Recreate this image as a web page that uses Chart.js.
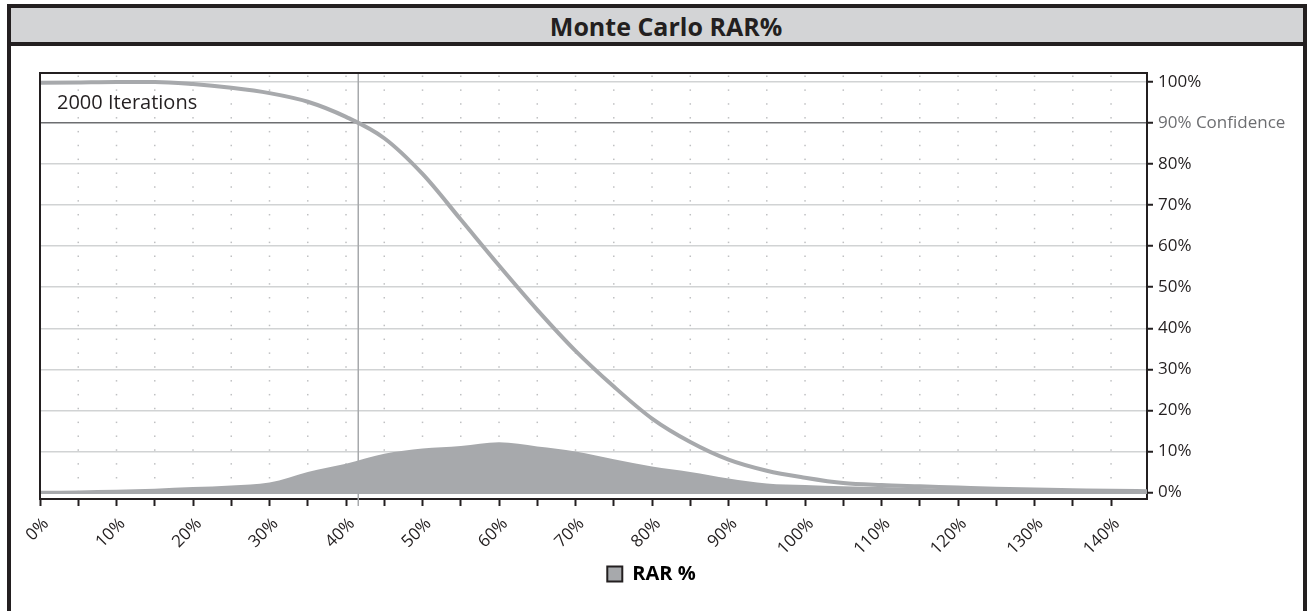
<!DOCTYPE html>
<html>
<head>
<meta charset="utf-8">
<title>Monte Carlo RAR%</title>
<script src="https://cdn.jsdelivr.net/npm/chart.js@4.4.0/dist/chart.umd.min.js"></script>
<style>
  html, body { margin: 0; padding: 0; background: #fff; overflow: hidden; }
  body { width: 1307px; height: 611px; position: relative; font-family: "Open Sans", sans-serif; }
  #frame { position: absolute; left: 7px; top: 4px; width: 1300px; height: 700px; border: 4px solid #231f20; box-sizing: border-box; }
  #titlebar { height: 34px; background: #d3d4d6; border-bottom: 4px solid #231f20; text-align: center; padding-left: 18px;
              font-weight: bold; font-size: 25px; line-height: 36px; color: #231f20; }
  #wrap { position: absolute; left: 11px; top: 46px; width: 1292px; height: 565px; }
</style>
</head>
<body>
<div id="frame"><div id="titlebar">Monte Carlo RAR%</div></div>
<div id="wrap"><canvas id="rarChart"></canvas></div>
<script>
// RAR % bins (x axis)
var rarPct = [0, 5, 10, 15, 20, 25, 30, 35, 40, 45, 50, 55, 60, 65, 70, 75, 80, 85, 90, 95, 100, 105, 110, 115, 120, 125, 130, 135, 140, 145];
// cumulative probability curve (%)
var cumulative = [99.8, 99.9, 100, 100, 99.5, 98.6, 97.3, 95.2, 91.5, 86.3, 77.6, 66.5, 55.3, 44.5, 34.5, 25.8, 18.0, 12.3, 8.0, 5.3, 3.6, 2.3, 1.8, 1.5, 1.2, 0.9, 0.7, 0.55, 0.4, 0.3];
// distribution (%)
var density = [0.4, 0.5, 0.65, 0.9, 1.3, 1.7, 2.4, 5.0, 7.0, 9.4, 10.7, 11.3, 12.2, 11.2, 10.0, 8.1, 6.3, 5.0, 3.4, 2.2, 1.8, 1.5, 1.3, 1.1, 0.9, 0.7, 0.6, 0.5, 0.4, 0.3];

var xTicks = [0, 5, 10, 15, 20, 25, 30, 35, 40, 45, 50, 55, 60, 65, 70, 75, 80, 85, 90, 95, 100, 105, 110, 115, 120, 125, 130, 135, 140];
var yTicks = [0, 10, 20, 30, 40, 50, 60, 70, 80, 90, 100];

var confidenceX = 41.6;
var confidenceY = 90;
var seriesName = 'RAR %';
var iterationsText = '2000 Iterations';

var gray = '#a7a9ac';
var ink = '#231f20';

var decor = {
    id: 'decor',
    beforeDraw: function (chart) {
        var ctx = chart.ctx, x = chart.scales.x, y = chart.scales.y;
        ctx.save();
        // dotted background grid
        ctx.fillStyle = '#bfc0c2';
        for (var vx = 5; vx < x.max; vx += 5) {
            var px = x.getPixelForValue(vx);
            for (var vy = 101.4; vy > 0; vy -= 3.373) {
                var py = y.getPixelForValue(vy);
                ctx.fillRect(px - 0.75, py - 0.75, 1.5, 1.5);
            }
        }
        ctx.restore();
    },
    beforeDatasetsDraw: function (chart) {
        var ctx = chart.ctx, a = chart.chartArea, x = chart.scales.x;
        var px = x.getPixelForValue(confidenceX);
        ctx.save();
        ctx.strokeStyle = gray;
        ctx.lineWidth = 1.5;
        ctx.beginPath();
        ctx.moveTo(px, a.top);
        ctx.lineTo(px, a.bottom + 7);
        ctx.stroke();
        ctx.restore();
    },
    afterDraw: function (chart) {
        var ctx = chart.ctx, a = chart.chartArea;
        ctx.save();
        ctx.strokeStyle = ink;
        ctx.lineWidth = 2;
        ctx.beginPath();
        ctx.moveTo(a.left, a.bottom);
        ctx.lineTo(a.left, a.top);
        ctx.lineTo(a.right, a.top);
        ctx.stroke();
        ctx.fillStyle = ink;
        ctx.font = '20px "Open Sans"';
        ctx.textBaseline = 'alphabetic';
        ctx.fillText(iterationsText, a.left + 17, a.top + 36);
        ctx.restore();
    }
};

var ctx = document.getElementById('rarChart').getContext('2d');

var rarChart = new Chart(ctx, {
    type: 'line',
    data: {
        datasets: [{
            label: 'Cumulative',
            data: rarPct.map(function (v, i) { return { x: v, y: cumulative[i] }; }),
            borderColor: gray,
            borderWidth: 4,
            pointRadius: 0,
            fill: false,
            cubicInterpolationMode: 'monotone'
        }, {
            label: seriesName,
            data: rarPct.map(function (v, i) { return { x: v, y: density[i] }; }),
            backgroundColor: gray,
            borderColor: gray,
            borderWidth: 0,
            pointRadius: 0,
            fill: { value: -0.4 },
            cubicInterpolationMode: 'monotone'
        }]
    },
    plugins: [decor],
    options: {
        responsive: true,
        maintainAspectRatio: false,
        animation: false,
        layout: { padding: { left: 0, right: 11, top: 27, bottom: 17 } },
        plugins: {
            title: { display: false },
            tooltip: { enabled: false },
            legend: {
                position: 'bottom',
                labels: {
                    boxWidth: 15,
                    boxHeight: 15,
                    color: ink,
                    font: { family: 'Open Sans', size: 20, weight: 'bold' },
                    generateLabels: function () {
                        return [{ text: seriesName, fillStyle: gray, strokeStyle: ink, lineWidth: 2, hidden: false, datasetIndex: 1 }];
                    }
                }
            }
        },
        scales: {
            x: {
                type: 'linear',
                position: 'bottom',
                min: 0,
                max: 144.7,
                afterBuildTicks: function (s) { s.ticks = xTicks.map(function (v) { return { value: v }; }); },
                afterFit: function (s) { s.height = 55; s.paddingLeft = 29; s.paddingRight = 0; },
                ticks: {
                    autoSkip: false,
                    maxRotation: 45,
                    minRotation: 45,
                    padding: 8,
                    labelOffset: 6,
                    color: ink,
                    font: { family: 'Open Sans', size: 17 },
                    callback: function (v) { return v % 10 === 0 ? v + '%' : ''; }
                },
                grid: { drawOnChartArea: false, drawTicks: true, tickLength: 7, tickColor: ink, tickWidth: 2 },
                border: { color: ink, width: 2 }
            },
            y: {
                type: 'linear',
                position: 'right',
                min: -1.6,
                max: 102.2,
                afterBuildTicks: function (s) { s.ticks = yTicks.map(function (v) { return { value: v }; }); },
                afterFit: function (s) { s.width = 145; },
                ticks: {
                    padding: 5,
                    color: function (c) { return c.tick && c.tick.value === confidenceY ? '#6d6e71' : ink; },
                    font: { family: 'Open Sans', size: 17 },
                    callback: function (v) { return v === confidenceY ? v + '% Confidence' : v + '%'; }
                },
                grid: {
                    color: function (c) { return c.tick && c.tick.value === confidenceY ? '#6d6e71' : '#d1d3d4'; },
                    lineWidth: 1.5,
                    drawTicks: true,
                    tickLength: 6,
                    tickColor: ink,
                    tickWidth: 2
                },
                border: { color: ink, width: 2 }
            }
        }
    }
});
</script>
</body>
</html>
